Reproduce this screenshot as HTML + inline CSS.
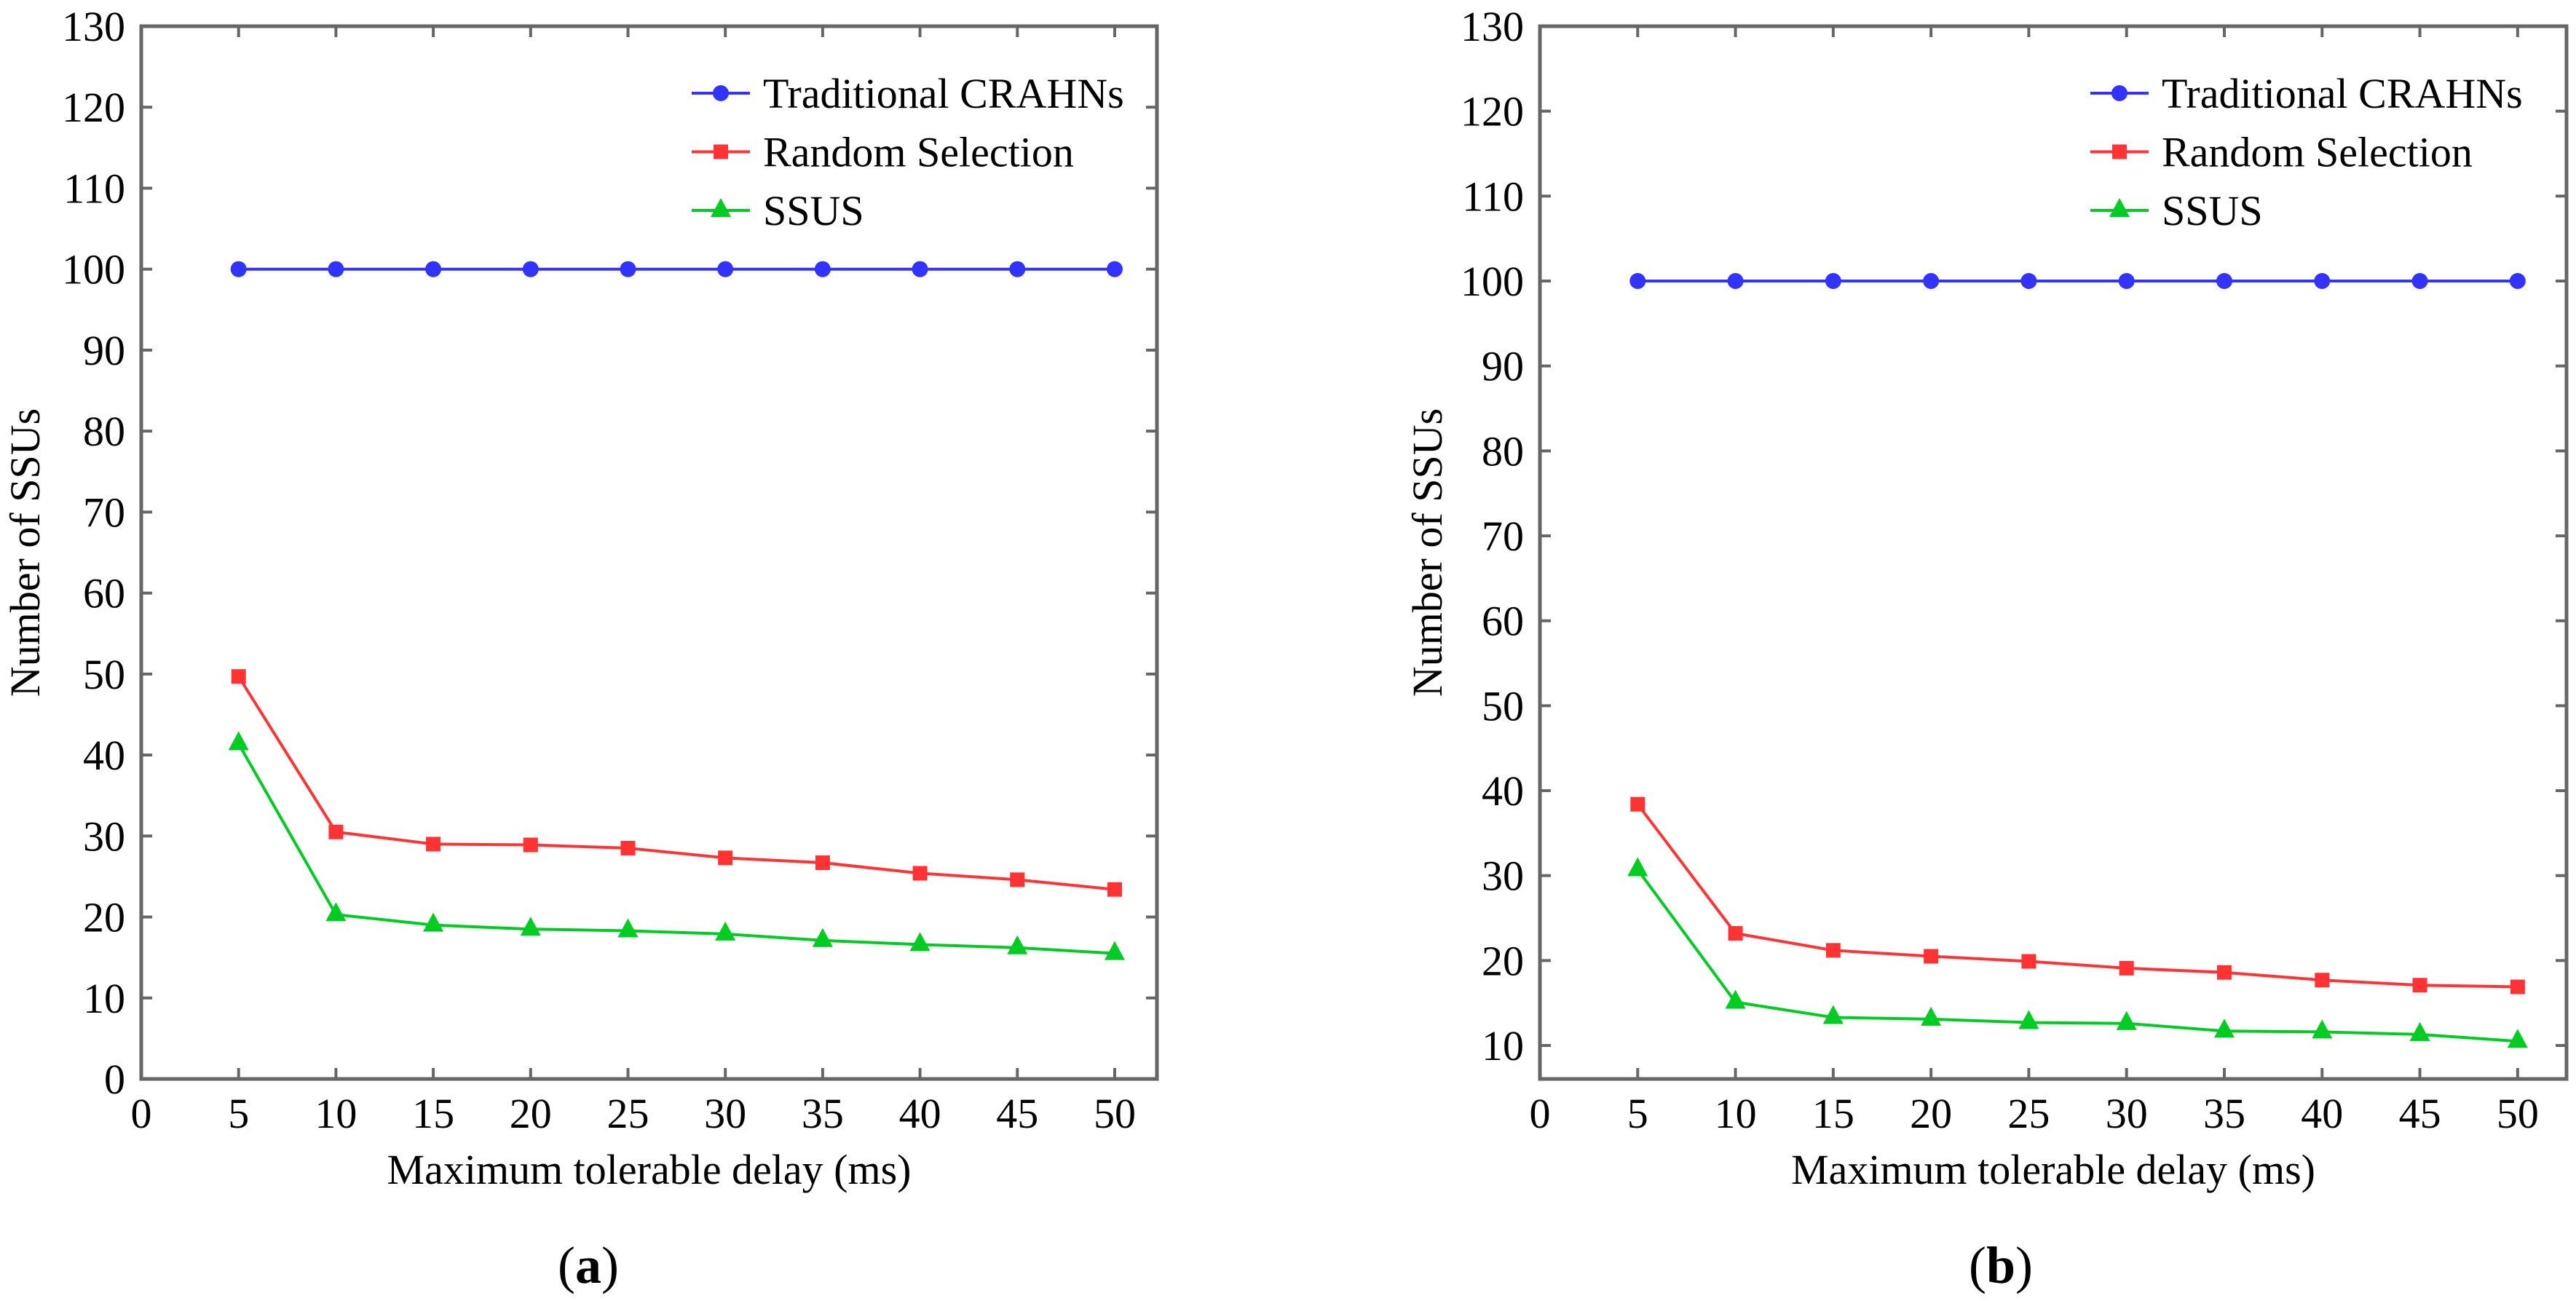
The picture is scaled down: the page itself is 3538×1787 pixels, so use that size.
<!DOCTYPE html>
<html><head><meta charset="utf-8">
<style>
html,body{margin:0;padding:0;background:#fff;font-family:"Liberation Serif","Times New Roman",Times,Tinos,"DejaVu Serif",serif;}
svg{display:block;}
svg text{font-family:"Liberation Serif","Times New Roman",Times,Tinos,"DejaVu Serif",serif;}
</style></head>
<body>
<svg id="chart" width="3538" height="1787" viewBox="0 0 3538 1787" xmlns="http://www.w3.org/2000/svg"></svg>
<script>
const xValues = [5,10,15,20,25,30,35,40,45,50];
const xTicks = [0,5,10,15,20,25,30,35,40,45,50];
const seriesNames = ["Traditional CRAHNs","Random Selection","SSUS"];
const aTraditional = [100,100,100,100,100,100,100,100,100,100];
const aRandom = [49.7,30.5,29.0,28.9,28.5,27.3,26.7,25.4,24.6,23.4];
const aSSUS = [41.4,20.3,19.0,18.5,18.3,17.9,17.1,16.6,16.2,15.5];
const bTraditional = [100,100,100,100,100,100,100,100,100,100];
const bRandom = [38.4,23.2,21.2,20.5,19.9,19.1,18.6,17.7,17.1,16.9];
const bSSUS = [30.7,15.1,13.3,13.1,12.7,12.6,11.7,11.6,11.3,10.5];
const aYTicks = [0,10,20,30,40,50,60,70,80,90,100,110,120,130];
const bYTicks = [10,20,30,40,50,60,70,80,90,100,110,120,130];

const NS="http://www.w3.org/2000/svg";
const svg=document.getElementById('chart');
function mk(tag,attrs,parent){const e=document.createElementNS(NS,tag);for(const k in attrs)e.setAttribute(k,attrs[k]);if(tag==='text')e.style.fontFamily='"Liberation Serif","Times New Roman",Times,Tinos,"DejaVu Serif",serif';(parent||svg).appendChild(e);return e;}
const colors=["#3333ff","#ff3333","#00cc22"];
const AX="#666666";

function drawPanel(p){
  const g=mk('g',{});
  
  
  const X=v=>p.left+(v-p.xmin)/(p.xmax-p.xmin)*(p.right-p.left);
  const Y=v=>p.bottom-(v-p.ymin)/(p.ymax-p.ymin)*(p.bottom-p.top);
  xTicks.forEach(t=>{
    const x=X(t);
    const t1=mk('line',{x1:x,x2:x,y1:p.bottom,y2:p.bottom-15,stroke:AX,'stroke-width':4},g);
    
    
    const t2=mk('line',{x1:x,x2:x,y1:p.top,y2:p.top+15,stroke:AX,'stroke-width':4},g);
    
    
    const lb=mk('text',{x:x,y:p.bottom+67,'font-size':58,'text-anchor':'middle',fill:'#000'},g);
    lb.textContent=t;
    
    
  });
  p.yTicks.forEach(t=>{
    const y=Y(t);
    const t1=mk('line',{x1:p.left,x2:p.left+15,y1:y,y2:y,stroke:AX,'stroke-width':4},g);
    
    
    const t2=mk('line',{x1:p.right,x2:p.right-15,y1:y,y2:y,stroke:AX,'stroke-width':4},g);
    
    
    const lb=mk('text',{x:p.left-22,y:y+20,'font-size':58,'text-anchor':'end',fill:'#000'},g);
    lb.textContent=t;
    
    
  });
  const box=mk('rect',{x:p.left,y:p.top,width:p.right-p.left,height:p.bottom-p.top,fill:'none',stroke:AX,'stroke-width':5},g);
  
  
  p.series.forEach((s,i)=>{
    const sg=mk('g',{},g);
    
    
    const pts=xValues.map((xv,j)=>X(xv)+','+Y(s[j])).join(' ');
    const pl=mk('polyline',{points:pts,fill:'none',stroke:colors[i],'stroke-width':4},sg);
    
    
    xValues.forEach((xv,j)=>{
      drawMarker(sg,i,X(xv),Y(s[j]));
    });
  });
  const lg=mk('g',{},g);
  
  
  seriesNames.forEach((n,i)=>{
    const ly=p.legY+i*80.5;
    const e=mk('g',{},lg);
    
    
    mk('line',{x1:p.legX-98,x2:p.legX-18,y1:ly,y2:ly,stroke:colors[i],'stroke-width':4},e);
    drawMarker(e,i,p.legX-58,ly);
    const t=mk('text',{x:p.legX,y:ly+20,'font-size':58,fill:'#000'},e);
    t.textContent=n;
  });
  const xt=mk('text',{x:(p.left+p.right)/2,y:1626,'font-size':58,'text-anchor':'middle',fill:'#000'},g);
  xt.textContent='Maximum tolerable delay (ms)';
  
  
  const cy=(p.top+p.bottom)/2;
  const yt=mk('text',{x:p.ytX,y:cy,'font-size':58,'text-anchor':'middle',fill:'#000',transform:'rotate(-90 '+p.ytX+' '+cy+')'},g);
  yt.textContent='Number of SSUs';
  
  
  const cap=mk('text',{x:p.capX,y:1762,'font-size':72,'text-anchor':'middle',fill:'#000'},g);
  
  
  const s1=mk('tspan',{},cap);s1.textContent='(';
  const s2=mk('tspan',{'font-weight':'bold'},cap);s2.textContent=p.cap;
  const s3=mk('tspan',{},cap);s3.textContent=')';
}
function drawMarker(parent,i,x,y){
  let m;
  if(i===0) m=mk('circle',{cx:x,cy:y,r:11,fill:colors[0]},parent);
  else if(i===1) m=mk('rect',{x:x-10,y:y-10,width:20,height:20,fill:colors[1]},parent);
  else m=mk('polygon',{points:(x)+','+(y-17)+' '+(x-14)+','+(y+9)+' '+(x+14)+','+(y+9),fill:colors[2]},parent);
  
  
}
drawPanel({name:'panel-a',left:194,right:1589,top:36,bottom:1482,xmin:0,xmax:52.17,ymin:0,ymax:130,yTicks:aYTicks,series:[aTraditional,aRandom,aSSUS],legX:1048,legY:128,ytX:54,capX:808,cap:'a'});
drawPanel({name:'panel-b',left:2115,right:3525,top:36,bottom:1482,xmin:0,xmax:52.5,ymin:6.06,ymax:130,yTicks:bYTicks,series:[bTraditional,bRandom,bSSUS],legX:2969,legY:128,ytX:1980,capX:2748,cap:'b'});
</script>
</body></html>
